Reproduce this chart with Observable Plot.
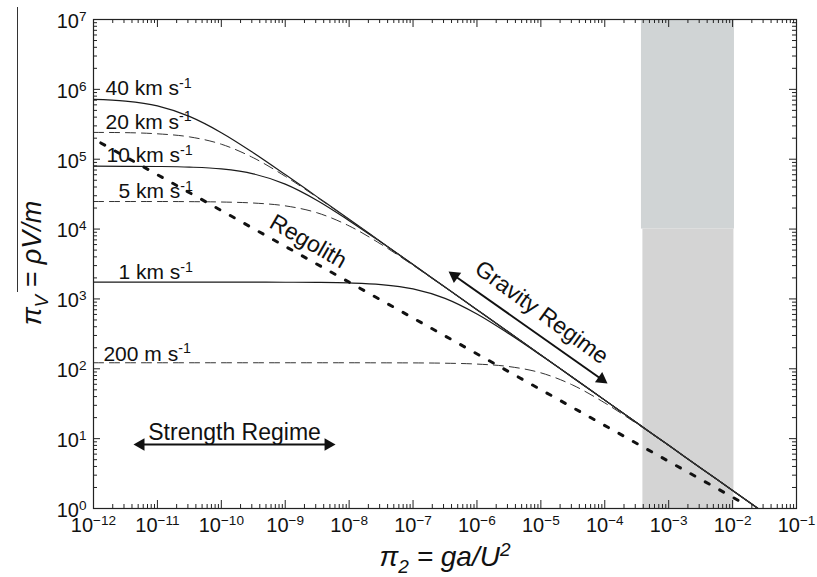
<!DOCTYPE html>
<html><head><meta charset="utf-8">
<script src="https://cdn.jsdelivr.net/npm/d3@7"></script>
<script src="https://cdn.jsdelivr.net/npm/@observablehq/plot@0.6"></script>
<style>
body{margin:0;background:#fff;}
#fig{position:relative;width:817px;height:577px;}
#edge{position:absolute;left:17px;top:7px;width:1px;height:285px;background:#333;}
</style></head><body>
<div id="fig"><div id="edge"></div></div>
<script>
// ---- data ----
const pi2 = [1e-12, 3.16e-12, 1e-11, 3.16e-11, 1e-10, 3.16e-10, 1e-9, 3.16e-9, 1e-8, 3.16e-8, 1e-7, 3.16e-7,
             1e-6, 3.16e-6, 1e-5, 3.16e-5, 1e-4, 3.16e-4, 1e-3, 3.16e-3, 1e-2, 2.5e-2];
const v40  = [7.2e5, 6.8e5, 5.8e5, 4.1e5, 2.4e5, 1.24e5, 6.04e4, 2.89e4, 1.38e4, 6555, 3112, 1477, 701, 333, 158, 75.0, 35.6, 16.9, 8.03, 3.81, 1.81, 1.0];
const v20  = [2.42e5, 2.40e5, 2.31e5, 2.09e5, 1.64e5, 1.05e5, 5.70e4, 2.84e4, 1.37e4, 6537, 3109, 1477, 701, 333, 158, 75.0, 35.6, 16.9, 8.03, 3.81, 1.81, 1.0];
const v10  = [7.94e4, 7.92e4, 7.87e4, 7.71e4, 7.26e4, 6.18e4, 4.40e4, 2.57e4, 1.32e4, 6470, 3099, 1476, 701, 333, 158, 75.0, 35.6, 16.9, 8.03, 3.81, 1.81, 1.0];
const v5   = [2.48e4, 2.48e4, 2.48e4, 2.47e4, 2.44e4, 2.36e4, 2.15e4, 1.71e4, 1.11e4, 6063, 3032, 1465, 699, 333, 158, 75.0, 35.6, 16.9, 8.03, 3.81, 1.81, 1.0];
const v1   = [1740, 1740, 1740, 1740, 1740, 1737, 1733, 1724, 1694, 1607, 1394, 1018, 608, 317, 156, 74.7, 35.6, 16.9, 8.03, 3.81, 1.81, 1.0];
const v02  = [122, 122, 122, 122, 122, 122, 122, 122, 122, 121.7, 121.4, 120.2, 116.8, 107.6, 87.5, 58.4, 32.5, 16.4, 7.95, 3.80, 1.81, 1.0];

const curveNames  = ["40 km/s", "20 km/s", "10 km/s", "5 km/s", "1 km/s", "200 m/s"];
const curveValues = [v40, v20, v10, v5, v1, v02];
const curveDashed = [false, true, false, true, false, true];

const labelText = ["40 km s^{-1}", "20 km s^{-1}", "10 km s^{-1}", "5 km s^{-1}", "1 km s^{-1}", "200 m s^{-1}"];
const labelX    = [1.54e-12, 1.54e-12, 1.6e-12, 2.46e-12, 2.46e-12, 1.43e-12];
const labelY    = [8.3e5, 2.75e5, 8.98e4, 2.74e4, 1.9e3, 131];

const regolithX = [1.3e-12, 1.5e-2];
const regolithY = [1.71e5, 1.18];

// grey band (two slightly different greys in the reference)
const bandX1 = [3.75e-4, 3.95e-4];
const bandX2 = [1.07e-2, 1.05e-2];
const bandY1 = [1e4, 1];
const bandY2 = [1e7, 1e4];
const bandFill = ["#d0d4d5", "#d4d4d4"];

// double arrows: shaft ends (head centres) and heads
const arrowX1 = [5.5e-12, 4.46e-7];
const arrowY1 = [8.25, 2150];
const arrowX2 = [4.71e-9, 8.91e-5];
const arrowY2 = [8.25, 70.8];
const headX = [5.5e-12, 4.71e-9, 4.46e-7, 8.91e-5];
const headY = [8.25, 8.25, 2150, 70.8];
const headAngle = [-90, 90, -54.8, 125.2];

const annText = ["Strength Regime", "Regolith", "Gravity Regime"];
const annX = [1.61e-10, 2.3e-9, 1.03e-5];
const annY = [12.0, 6650, 640];
const annRotate = [0, 30, 36];

const xMajor = [1e-12, 1e-11, 1e-10, 1e-9, 1e-8, 1e-7, 1e-6, 1e-5, 1e-4, 1e-3, 1e-2, 1e-1];
const xTickLabels = ["10^{−12}", "10^{−11}", "10^{−10}", "10^{−9}", "10^{−8}", "10^{−7}", "10^{−6}", "10^{−5}", "10^{−4}", "10^{−3}", "10^{−2}", "10^{−1}"];
const yMajor = [1, 10, 100, 1e3, 1e4, 1e5, 1e6, 1e7];
const yTickLabels = ["10^{0}", "10^{1}", "10^{2}", "10^{3}", "10^{4}", "10^{5}", "10^{6}", "10^{7}"];
const minorMult = [2, 3, 4, 5, 6, 7, 8, 9];

const xTitle = "π_{2} = ga/U^{2}";
const yTitle = "π_{V} = ρV/m";

// ---- build tables ----
const rows = [];
curveNames.forEach((name, k) => curveValues[k].forEach((v, i) => rows.push({x: pi2[i], y: v, curve: name, dashed: curveDashed[k]})));
const solidRows = rows.filter(d => !d.dashed);
const dashedRows = rows.filter(d => d.dashed);
const labels = labelText.map((t, i) => ({t, x: labelX[i], y: labelY[i]}));
const regolith = regolithX.map((x, i) => ({x, y: regolithY[i]}));
const bands = bandX1.map((x1, i) => ({x1, x2: bandX2[i], y1: bandY1[i], y2: bandY2[i], fill: bandFill[i]}));
const arrows = arrowX1.map((x1, i) => ({x1, y1: arrowY1[i], x2: arrowX2[i], y2: arrowY2[i]}));
const heads = headX.map((x, i) => ({x, y: headY[i], a: headAngle[i]}));
const anns = annText.map((t, i) => ({t, x: annX[i], y: annY[i], r: annRotate[i]}));
const xMinor = xMajor.slice(0, -1).flatMap(d => minorMult.map(m => m * d));
const yMinor = yMajor.slice(0, -1).flatMap(d => minorMult.map(m => m * d));

const W = 817, H = 577, mL = 93, mR = 21, mT = 19, mB = 69;
const innerW = W - mL - mR, innerH = H - mT - mB;
const ink = "#1a1a1a";
const TICK_FONT = 20;

const svg = Plot.plot({
  width: W, height: H,
  marginLeft: mL, marginRight: mR, marginTop: mT, marginBottom: mB,
  style: {fontFamily: '"Liberation Sans", Arial, sans-serif', fontSize: "19px", color: "#111", background: "#fff", overflow: "visible"},
  x: {type: "log", domain: [1e-12, 1e-1], axis: null, label: null},
  y: {type: "log", domain: [1, 1e7], axis: null, label: null},
  marks: [
    Plot.rect(bands, {x1: "x1", x2: "x2", y1: "y1", y2: "y2", fill: "fill"}),
    Plot.line(solidRows, {x: "x", y: "y", z: "curve", curve: "monotone-x", stroke: ink, strokeWidth: 1.2, clip: true}),
    Plot.line(dashedRows, {x: "x", y: "y", z: "curve", curve: "monotone-x", stroke: "#333", strokeWidth: 1, strokeDasharray: "10,6", clip: true}),
    Plot.line(regolith, {x: "x", y: "y", stroke: "#111", strokeWidth: 3, strokeDasharray: "4.5,12", clip: true}),
    Plot.link(arrows, {x1: "x1", y1: "y1", x2: "x2", y2: "y2", stroke: "#111", strokeWidth: 2}),
    Plot.dot(heads, {x: "x", y: "y", rotate: "a", symbol: "triangle", r: 4.7, fill: "#111", stroke: null}),
    Plot.text(labels, {x: "x", y: "y", text: "t", textAnchor: "start", lineAnchor: "bottom", fontSize: 21, fill: "#111"}),
    Plot.text(anns, {x: "x", y: "y", text: "t", rotate: "r", textAnchor: "middle", lineAnchor: "middle", fontSize: 23, fill: "#111"}),
    Plot.frame({stroke: "#222", strokeWidth: 1.2}),
    // ticks, inward on all four sides
    Plot.tickX(xMajor, {x: d => d, insetTop: innerH - 8, stroke: "#222"}),
    Plot.tickX(xMajor, {x: d => d, insetBottom: innerH - 8, stroke: "#222"}),
    Plot.tickX(xMinor, {x: d => d, insetTop: innerH - 4, stroke: "#222"}),
    Plot.tickX(xMinor, {x: d => d, insetBottom: innerH - 4, stroke: "#222"}),
    Plot.tickY(yMajor, {y: d => d, insetRight: innerW - 7, stroke: "#222"}),
    Plot.tickY(yMajor, {y: d => d, insetLeft: innerW - 7, stroke: "#222"}),
    Plot.tickY(yMinor, {y: d => d, insetRight: innerW - 4, stroke: "#222"}),
    Plot.tickY(yMinor, {y: d => d, insetLeft: innerW - 4, stroke: "#222"}),
    Plot.axisX(xMajor, {tickSize: 0, tickPadding: 9, fontSize: TICK_FONT, label: null, ariaLabel: "xticklabels", tickFormat: d => xTickLabels[xMajor.indexOf(d)]}),
    Plot.axisY(yMajor, {tickSize: 0, tickPadding: 7, dy: 2, fontSize: TICK_FONT, label: null, ariaLabel: "yticklabels", tickFormat: d => yTickLabels[yMajor.indexOf(d)]}),
    Plot.text([xTitle], {text: d => d, frameAnchor: "bottom", dy: 57, textAnchor: "middle", lineAnchor: "bottom", fontSize: 28, fontStyle: "italic", fill: "#111"}),
    Plot.text([yTitle], {text: d => d, frameAnchor: "left", dx: -61, dy: -1, rotate: -90, textAnchor: "middle", lineAnchor: "middle", fontSize: 27, fontStyle: "italic", fill: "#111"})
  ]
});
document.getElementById("fig").appendChild(svg);

// turn ^{..} / _{..} into raised / lowered tspans
const NS = "http://www.w3.org/2000/svg";
svg.querySelectorAll("text").forEach(t => {
  const s = t.textContent;
  if (!/[\^_]\{/.test(s) || t.children.length) return;
  const g = t.closest("g[aria-label]");
  const isTick = g && /ticklabels|tick label/.test(g.getAttribute("aria-label") || "");
  let fs = parseFloat(getComputedStyle(t).fontSize) || 19;
  if (isTick) { fs = TICK_FONT; t.setAttribute("font-size", fs); }
  const parts = [];
  const re = /([\^_])\{([^}]*)\}/g;
  let last = 0, m;
  while ((m = re.exec(s))) {
    if (m.index > last) parts.push({text: s.slice(last, m.index), kind: ""});
    parts.push({text: m[2], kind: m[1]});
    last = re.lastIndex;
  }
  if (last < s.length) parts.push({text: s.slice(last), kind: ""});
  t.textContent = "";
  let cur = 0;
  for (const p of parts) {
    const ts = document.createElementNS(NS, "tspan");
    const target = p.kind === "^" ? -0.35 * fs : p.kind === "_" ? 0.25 * fs : 0;
    ts.setAttribute("dy", (target - cur).toFixed(2));
    cur = target;
    ts.setAttribute("font-size", (p.kind ? 0.68 * fs : fs).toFixed(2));
    ts.textContent = p.text;
    t.appendChild(ts);
  }
});
</script>
</body></html>
